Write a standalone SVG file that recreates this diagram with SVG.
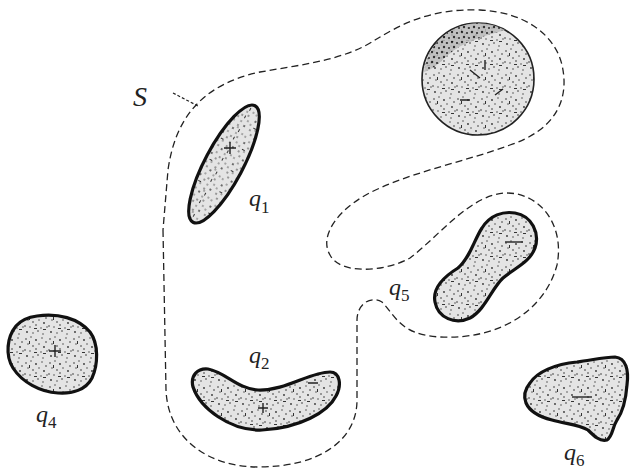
<svg xmlns="http://www.w3.org/2000/svg" width="634" height="472" viewBox="0 0 634 472">
<style>
.surf{fill:none;stroke:#222;stroke-width:1.3;stroke-dasharray:7 4}
.blob{fill:url(#stip);stroke:#111;stroke-width:3.2;stroke-linejoin:round}
.lbl{font-family:"Liberation Serif","DejaVu Serif",serif;font-style:italic;fill:#222}
.sub{font-style:normal}
.mark{stroke:#222;stroke-width:1.4;fill:none}
</style>
<defs>
<pattern id="stip" width="24" height="24" patternUnits="userSpaceOnUse">
<rect width="24" height="24" fill="#e4e4e4"/>
<g fill="#333">
<circle cx="2" cy="3" r="0.8"/><circle cx="7" cy="1" r="0.7"/><circle cx="12" cy="4" r="0.9"/><circle cx="18" cy="2" r="0.7"/><circle cx="22" cy="6" r="0.8"/>
<circle cx="4" cy="8" r="0.7"/><circle cx="9" cy="10" r="0.8"/><circle cx="15" cy="8" r="0.7"/><circle cx="20" cy="11" r="0.9"/>
<circle cx="1" cy="14" r="0.8"/><circle cx="6" cy="15" r="0.7"/><circle cx="12" cy="13" r="0.8"/><circle cx="17" cy="16" r="0.7"/><circle cx="23" cy="15" r="0.7"/>
<circle cx="3" cy="20" r="0.9"/><circle cx="9" cy="21" r="0.7"/><circle cx="14" cy="19" r="0.8"/><circle cx="19" cy="22" r="0.7"/>
</g>
<rect x="10" y="16" width="3" height="1" fill="#333"/><rect x="5" y="5" width="1" height="3" fill="#333"/><rect x="19" y="17" width="3" height="1" fill="#333"/>
</pattern>
<pattern id="stip2" width="10" height="10" patternUnits="userSpaceOnUse">
<rect width="10" height="10" fill="#bbb"/>
<g fill="#111"><circle cx="2" cy="2" r="1.2"/><circle cx="7" cy="3" r="1.1"/><circle cx="4" cy="7" r="1.2"/><circle cx="9" cy="8" r="1"/></g>
</pattern>
</defs>

<g id="surface-S">
<path class="surf" d="M163,230 L166,390 C168,440 210,467 258,467 C320,467 357,440 357,400 L357,320 C357,305 370,295 382,302 C395,315 400,335 440,337 C500,340 545,310 557,265 C565,225 540,192 505,193 C470,195 440,235 410,258 C385,272 340,275 330,255 C318,235 340,205 380,188 C420,170 470,160 510,145 C555,130 570,100 562,65 C555,35 525,12 480,10 C430,8 400,25 375,40 C345,60 300,65 260,72 C200,85 175,120 168,170 Z"/>
<line x1="173" y1="93" x2="198" y2="106" stroke="#222" stroke-width="1.2" stroke-dasharray="3 2"/>
<text class="lbl" x="133" y="106" font-size="28">S</text>
</g>

<g id="q1">
<ellipse class="blob" cx="224" cy="164" rx="66" ry="19" transform="rotate(-62 224 164)"/>
<path class="mark" d="M224,148 h12 M230,142 v12"/>
<text class="lbl" x="249" y="206" font-size="24">q<tspan class="sub" font-size="17" dy="7">1</tspan></text>
</g>

<g id="big-circle">
<circle cx="478" cy="79" r="56" fill="url(#stip)" stroke="#222" stroke-width="1.6"/>
<path d="M424,72 A55,55 0 0 1 505,30 C485,36 462,42 448,55 C438,64 432,70 424,72 Z" fill="url(#stip2)" opacity="0.85"/>
<path class="mark" d="M470,70 l10,8 M485,60 v10 M495,95 l8,-6 M460,100 h10"/>
</g>

<g id="q5">
<path class="blob" d="M515,213 C532,216 540,233 535,248 C530,262 515,268 503,278 C492,288 485,310 470,318 C455,325 438,318 435,302 C432,287 445,276 458,268 C470,258 474,240 482,228 C490,215 503,211 515,213 Z"/>
<path class="mark" d="M505,242 h18"/>
<text class="lbl" x="389" y="295" font-size="24">q<tspan class="sub" font-size="17" dy="6">5</tspan></text>
</g>

<g id="q2">
<path class="blob" d="M193,387 C190,375 198,368 208,369 C225,372 238,389 258,390 C285,391 310,372 330,372 C340,372 342,385 336,396 C328,412 300,428 262,430 C230,431 200,408 193,387 Z"/>
<path class="mark" d="M258,408 h10 M263,403 v10 M308,383 h10"/>
<text class="lbl" x="249" y="363" font-size="24">q<tspan class="sub" font-size="17" dy="6">2</tspan></text>
</g>

<g id="q4">
<path class="blob" d="M37,316 C58,313 78,318 90,332 C99,344 98,365 92,378 C86,390 72,394 58,393 C40,392 22,382 13,368 C5,355 7,337 16,326 C22,319 29,317 37,316 Z"/>
<path class="mark" d="M49,351 h12 M55,345 v12"/>
<text class="lbl" x="36" y="422" font-size="24">q<tspan class="sub" font-size="17" dy="6">4</tspan></text>
</g>

<g id="q6">
<path class="blob" d="M530,383 C537,372 555,364 577,362 C592,360 605,357 615,357 C626,358 629,370 627,385 C626,398 624,410 617,420 C612,428 613,436 607,440 C600,442 594,436 588,430 C578,424 565,424 552,420 C540,417 530,412 526,403 C523,395 525,389 530,383 Z"/>
<path class="mark" d="M572,397 h20"/>
<text class="lbl" x="564" y="460" font-size="24">q<tspan class="sub" font-size="17" dy="6">6</tspan></text>
</g>
</svg>
